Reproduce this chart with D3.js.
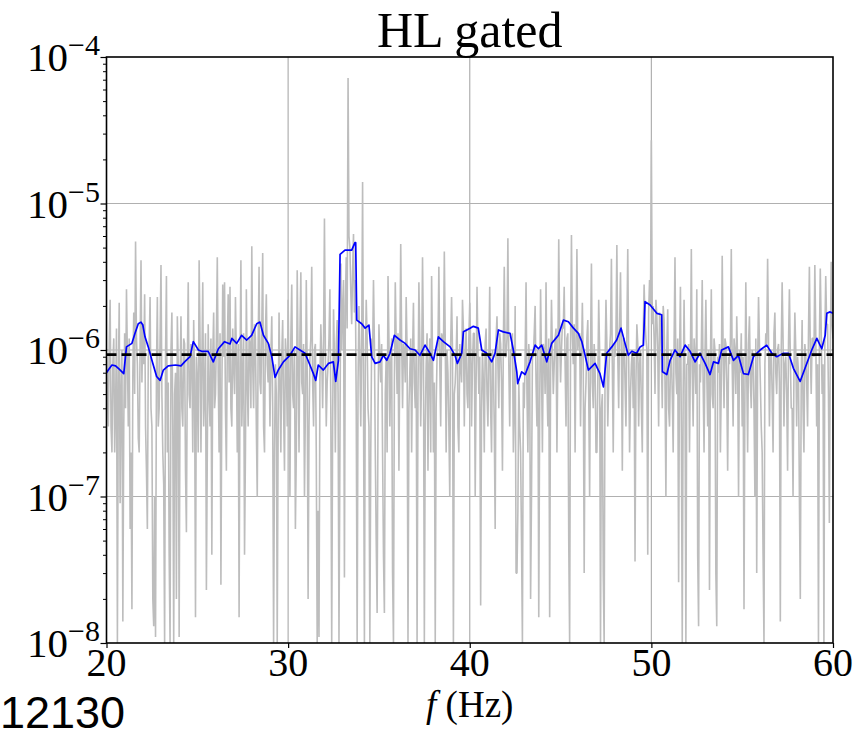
<!DOCTYPE html>
<html>
<head>
<meta charset="utf-8">
<script src="https://cdn.jsdelivr.net/npm/d3@7"></script>
<style>
  html, body { margin: 0; padding: 0; background: #fff; }
  svg { display: block; }
</style>
</head>
<body>
<svg id="chart" width="864" height="738"></svg>
<script>
// ---------------- DATA ----------------
const titleText = "HL gated";
const xLabelPrefix = "f";
const xLabelSuffix = " (Hz)";
const cornerLabel = "12130";

const xTicks = [20, 30, 40, 50, 60];
const yTickExponents = [-8, -7, -6, -5, -4];

// gray spectrum, values at 20.0, 20.1, ... 60.0 Hz
const grayStart = 20, grayStep = 0.1;
const grayPSD = [
  9e-7,3e-7,2.2e-6,2e-7,1.2e-6,4e-7,1e-8,2.1e-6,5e-7,1.4e-8,
  1.3e-6,2.6e-6,3e-7,6e-8,1.7e-8,1.8e-6,5.5e-6,8e-7,2e-7,4.1e-6,
  1.5e-6,2.4e-6,1.5e-7,9e-7,2.3e-6,3e-7,1.3e-8,1.1e-8,2.3e-6,4e-7,
  3.8e-6,2e-7,1e-8,3.2e-6,6e-7,1e-8,1.8e-6,1e-8,7e-7,1.7e-6,
  1.1e-8,1.7e-6,3e-7,1.1e-6,5.7e-8,2.9e-6,4e-7,9e-7,1.6e-6,1.5e-8,
  6e-7,4.1e-6,2e-7,2.9e-6,5e-7,2.3e-8,1.5e-6,3e-7,4e-8,1.8e-6,
  5e-7,4.3e-6,2e-7,2.5e-8,2.8e-6,2.9e-6,1.5e-7,2.4e-6,2.7e-6,3e-7,
  8e-7,2.3e-6,2e-7,1.5e-8,4.1e-6,6e-7,4e-8,2.6e-6,3e-7,1.1e-6,
  5.1e-6,4e-7,1.2e-6,1e-7,3.7e-6,5e-7,4.6e-6,2e-7,2.4e-6,6e-7,
  3e-7,1.7e-6,1e-8,8e-7,1e-8,1.8e-6,2e-7,1.6e-6,1.5e-7,9e-7,
  2.2e-6,1e-7,2.8e-6,4e-7,6e-8,3.5e-6,2e-7,3.4e-6,5e-7,1e-7,
  3e-6,2e-8,9e-7,3.7e-6,3e-7,1.1e-6,1e-8,1.1e-8,1.5e-6,4e-7,
  7.9e-6,3e-7,8e-7,2.6e-6,1e-8,1.9e-6,2e-7,1.6e-6,1e-8,3.9e-6,
  2e-6,2.8e-8,4.3e-6,7.2e-5,5e-6,1.5e-6,6.2e-6,3e-6,1e-8,2e-6,
  3e-7,1.4e-5,1e-8,2.2e-6,4e-7,1e-8,1.2e-6,3e-6,2e-7,1.6e-8,
  1.5e-6,6e-7,2e-7,1.6e-8,9e-7,3.2e-6,3e-7,1.2e-6,1e-8,2.9e-6,
  5e-7,1.5e-7,5.3e-6,4e-7,1e-6,2.3e-6,1e-8,7e-7,2e-7,2.1e-6,
  4e-7,1e-8,2.9e-6,3e-7,4.3e-6,1e-8,8e-7,1.5e-7,1.2e-6,3.2e-6,
  2e-7,1e-8,9e-7,3.7e-6,3e-7,1.2e-6,4.7e-6,2e-7,7e-7,1e-7,
  2.3e-6,1e-8,6e-7,1.7e-6,2e-7,8e-7,2.2e-6,3e-7,1.4e-6,4e-7,
  2.1e-6,3e-7,1.3e-6,1e-7,2.7e-6,5e-7,1.8e-8,1e-6,2e-7,1.4e-6,
  3e-7,2.7e-6,2e-7,8e-7,6e-8,1.7e-6,4e-7,1.1e-6,1.5e-7,3.7e-6,
  9e-7,5.8e-6,3e-7,1e-6,2e-7,2e-6,3e-8,6e-7,2e-7,1e-8,
  4e-7,2.9e-6,2e-7,8e-7,1e-7,9e-7,2e-6,3e-7,1.5e-8,2.6e-6,
  2e-7,1e-6,2.9e-6,3e-7,1.5e-8,2.2e-6,5e-7,1.2e-6,2e-7,5.7e-6,
  6e-7,1.5e-6,2.7e-6,3e-7,1.3e-6,1e-8,6.1e-6,8e-7,2e-7,4.9e-6,
  1.2e-6,3e-7,2.1e-6,3e-8,6e-7,1.6e-6,1e-7,3.9e-6,4e-7,8e-7,
  2e-7,2.2e-6,1e-8,5e-7,1e-8,2.2e-6,3e-7,1e-6,4.2e-6,2e-7,
  9e-7,5.2e-6,4e-7,3.4e-6,1.5e-7,1.2e-6,3e-7,4.9e-6,2e-7,8e-7,
  4e-7,3.6e-8,1.5e-6,3e-7,1e-6,2e-7,2.8e-6,1.2e-6,4e-8,3e-6,
  2.7e-5,2e-6,5e-7,1.7e-6,3e-7,1.5e-6,4e-7,1.6e-6,1e-7,1.9e-6,
  3e-7,1e-6,2e-7,4.3e-6,5e-7,2.6e-8,2.7e-6,1e-8,2.2e-6,1e-8,
  8e-7,2e-7,4.9e-6,3e-7,9e-7,2.6e-6,1.3e-8,6e-7,3e-6,2e-7,
  2.2e-6,3e-7,2.3e-8,2.6e-6,4e-7,1e-6,1.3e-8,7e-7,2e-7,4.4e-6,
  4e-7,1.1e-6,1.5e-7,8e-7,4.9e-6,3e-7,1e-6,1.7e-6,1e-7,7e-7,
  3e-7,1.7e-8,2.9e-6,2e-7,1.7e-6,4e-7,9e-7,1e-7,3e-8,2.3e-6,
  6e-7,2e-7,1e-8,1.3e-6,4.2e-6,3e-7,1e-6,2e-7,1.8e-6,5e-7,
  1.1e-6,1.4e-8,2.9e-6,3e-7,9e-7,1.5e-7,2.6e-6,4e-7,1e-7,1.8e-6,
  3e-7,7e-7,2e-8,1.6e-6,2e-7,9e-7,3e-7,3.7e-6,5e-7,1.2e-6,
  3.8e-6,3e-7,1e-8,3.6e-6,5e-7,1e-8,3.2e-6,1.5e-6,6.6e-8,4e-6,
  1.2e-6
];
// gray spectrum, values at the half steps 20.05, 20.15, ... 59.95 Hz
const grayPSDHalf = [
  5e-7,1.1e-6,3e-7,8e-7,2e-7,1.4e-6,6e-7,9e-8,1e-6,3e-7,
  4e-7,9e-7,1.2e-6,2e-7,7e-7,5e-7,1.2e-6,2.5e-7,1.1e-6,6e-7,
  8e-7,3e-7,6e-8,1.1e-6,4e-7,2e-8,1e-7,7e-7,3e-7,1.2e-6,
  5e-7,1.2e-7,9e-7,2e-7,4e-8,1e-6,3e-7,5e-7,2e-8,8e-7,
  6e-7,4e-7,1.2e-6,1.5e-7,8e-7,5e-7,1.1e-6,2e-7,6e-7,9e-7,
  2e-7,1.2e-6,8e-7,3e-7,1.3e-6,2e-7,5e-7,1.2e-6,9e-7,4e-7,
  1.2e-6,7e-7,1.3e-6,5e-7,9e-7,4e-7,1e-6,6e-7,4e-7,1.4e-6,
  5e-7,9e-7,1.1e-6,7e-7,3e-7,1.3e-6,2e-7,6e-7,1.2e-6,4e-7,
  8e-7,1.5e-6,3e-7,1.1e-6,6e-7,1.4e-6,3e-7,1.3e-6,8e-7,1.1e-6,
  9e-7,4e-7,2e-7,5e-7,3e-7,6e-7,9e-7,4e-7,1.2e-6,3e-7,
  6e-7,1.2e-6,5e-7,1e-6,2e-7,9e-7,1.3e-6,6e-7,1.1e-6,4e-7,
  7e-7,3e-7,1.2e-6,6e-7,1e-6,2e-7,8e-8,6e-7,9e-7,1.1e-6,
  1e-6,6e-7,1.2e-6,4e-7,3e-7,9e-7,1.1e-6,5e-7,2e-7,1e-6,
  3e-6,2e-6,1.4e-6,6e-6,2.5e-6,3.5e-6,1.8e-6,4e-7,6e-7,9e-7,
  1.1e-6,5e-7,8e-7,1.2e-6,3e-7,2e-7,9e-7,1.1e-6,5e-8,4e-7,
  9e-7,1.1e-6,4e-8,5e-7,2e-7,1.2e-6,8e-7,3e-8,6e-7,1.1e-6,
  1.3e-6,9e-7,1.2e-6,1.1e-6,6e-7,1e-6,4e-7,1.2e-6,9e-7,6e-7,
  1e-6,5e-7,1.2e-6,7e-7,1.1e-6,3e-7,1.3e-6,8e-7,2e-7,9e-7,
  6e-7,4e-7,1.1e-6,8e-7,1.3e-6,9e-7,1.2e-6,1e-6,3e-7,1.1e-6,
  1e-6,5e-7,9e-7,3e-7,1.1e-6,6e-7,1.4e-6,9e-7,5e-7,1.2e-6,
  1.1e-6,8e-7,1.3e-6,6e-7,1e-6,9e-7,4e-7,6e-7,1.1e-6,5e-7,
  9e-7,4e-7,1e-6,3e-7,1.2e-6,8e-7,1.3e-6,6e-7,1.1e-6,9e-7,
  1.2e-6,8e-7,1e-6,1.3e-6,4e-7,3e-8,8e-8,3e-7,5e-8,6e-7,
  9e-7,5e-7,1.1e-6,2e-8,9e-7,1.3e-6,6e-7,1e-6,4e-7,8e-7,
  1.1e-6,5e-7,6e-7,1.2e-6,7e-7,1e-6,8e-7,1.4e-6,9e-7,1.3e-6,
  1e-6,1.4e-6,8e-7,1.2e-6,5e-8,1.1e-6,1.3e-6,1.5e-6,1.1e-6,1e-6,
  1.3e-6,9e-7,8e-7,4e-7,1.2e-6,5e-7,1e-6,6e-7,1.1e-6,2e-7,
  6e-7,1e-6,4e-7,3e-8,8e-7,1.1e-6,6e-7,1.3e-6,8e-7,1.1e-6,
  1.3e-6,9e-7,1.4e-6,1e-6,1.2e-6,6e-7,1.3e-6,9e-7,5e-7,1e-6,
  9e-7,6e-7,1.1e-6,8e-7,4e-7,1.2e-6,1.6e-6,1e-6,1.8e-6,2e-6,
  1.5e-6,1.2e-6,2.2e-6,1e-6,1.8e-6,9e-7,2e-6,6e-7,1e-6,4e-7,
  8e-7,5e-7,1.1e-6,7e-7,1.2e-6,9e-7,3e-7,5e-7,6e-7,8e-7,
  1.1e-6,9e-7,7e-7,1.2e-6,5e-7,4e-8,8e-7,1e-6,6e-7,9e-7,
  7e-7,1e-6,8e-7,5e-7,1.2e-6,3e-8,9e-7,1.1e-6,6e-7,1e-6,
  1.2e-6,6e-7,9e-7,1.1e-6,8e-7,1.2e-6,5e-7,8e-7,1e-6,1.3e-6,
  9e-7,5e-7,7e-7,1.1e-6,6e-7,1e-6,4e-7,1.2e-6,8e-7,1.1e-6,
  3e-7,4e-8,8e-7,1.1e-6,1.2e-6,9e-7,5e-7,1.3e-6,7e-7,1e-6,
  6e-7,1e-6,1.2e-6,8e-7,5e-7,1.1e-6,9e-7,4e-7,7e-7,1e-6,
  9e-7,1e-7,6e-7,4e-7,1.1e-6,6e-7,1.3e-6,1e-6,1.2e-6,9e-7,
  1.3e-6,8e-7,1.1e-6,1.4e-6,8e-7,1.2e-6,1.5e-6,5e-7,9e-7,1.5e-6
];

// blue running estimate (breakpoints)
const blueFreq = [
  20.0,20.1,20.3,20.5,20.7,20.95,21.1,21.4,21.57,21.75,21.9,22.0,22.12,22.3,22.5,22.76,22.95,23.13,23.4,23.8,
  24.1,24.3,24.6,24.78,25.06,25.24,25.6,25.88,26.16,26.5,26.8,26.9,27.17,27.44,27.72,27.99,28.27,28.45,28.64,28.91,
  29.1,29.28,29.46,29.74,30.1,30.38,30.65,30.93,31.2,31.39,31.52,31.66,31.94,32.22,32.49,32.62,32.77,32.86,33.13,33.5,
  33.68,33.72,33.78,34.05,34.24,34.45,34.6,34.79,35.06,35.24,35.43,35.61,35.85,36.16,36.44,36.71,36.99,37.26,37.54,37.81,
  38.0,38.27,38.55,38.92,39.19,39.32,39.56,39.65,40.02,40.2,40.47,40.66,40.93,41.21,41.39,41.58,41.85,42.22,42.4,42.59,
  42.64,42.86,43.05,43.32,43.6,43.78,43.96,44.24,44.51,44.88,45.16,45.43,45.71,45.98,46.17,46.35,46.53,46.9,47.17,47.36,
  47.54,47.82,48.09,48.33,48.55,48.73,48.92,49.19,49.38,49.56,49.65,49.93,50.3,50.57,50.61,50.85,51.03,51.3,51.58,51.86,
  52.13,52.41,52.68,52.96,53.23,53.42,53.69,53.87,54.24,54.52,54.79,55.07,55.34,55.62,55.99,56.35,56.63,56.9,57.27,57.55,
  57.82,58.19,58.46,58.83,59.11,59.38,59.57,59.66,59.84,60.0
];
const bluePSD = [
  7.0e-7,7.3e-7,7.9e-7,7.8e-7,7.4e-7,6.9e-7,1.05e-6,1.11e-6,1.30e-6,1.51e-6,1.55e-6,1.48e-6,1.23e-6,1.05e-6,8.5e-7,6.6e-7,6.2e-7,7.3e-7,7.8e-7,7.9e-7,
  7.8e-7,8.3e-7,9.0e-7,1.14e-6,1.0e-6,9.8e-7,9.8e-7,8.3e-7,1.02e-6,1.14e-6,1.1e-6,1.2e-6,1.11e-6,1.26e-6,1.17e-6,1.26e-6,1.51e-6,1.55e-6,1.26e-6,1.11e-6,
  9.0e-7,6.5e-7,7.3e-7,8.3e-7,9.2e-7,1.05e-6,1.0e-6,9.5e-7,7.9e-7,6.9e-7,6.2e-7,7.9e-7,7.3e-7,8.1e-7,8.3e-7,6.1e-7,8.5e-7,4.5e-6,4.8e-6,4.8e-6,
  5.4e-6,5.4e-6,1.6e-6,1.51e-6,1.41e-6,1.48e-6,9.0e-7,8.1e-7,8.3e-7,9.2e-7,8.5e-7,9.5e-7,1.26e-6,1.17e-6,1.11e-6,1.02e-6,1.0e-6,9.2e-7,1.08e-6,9.5e-7,
  8.5e-7,1.23e-6,1.14e-6,1.05e-6,9.2e-7,8.1e-7,9.5e-7,1.33e-6,1.41e-6,1.45e-6,1.41e-6,1.0e-6,9.5e-7,8.3e-7,9.5e-7,1.37e-6,1.33e-6,1.30e-6,1.0e-6,7.1e-7,
  5.9e-7,7.1e-7,6.8e-7,8.3e-7,1.08e-6,1.02e-6,1.08e-6,8.3e-7,1.11e-6,1.26e-6,1.60e-6,1.56e-6,1.41e-6,1.30e-6,1.14e-6,9.2e-7,7.3e-7,8.1e-7,6.9e-7,5.6e-7,
  9.5e-7,1.05e-6,1.17e-6,1.41e-6,1.11e-6,9.2e-7,9.8e-7,9.5e-7,1.05e-6,1.08e-6,2.14e-6,2.03e-6,1.78e-6,1.74e-6,7.1e-7,6.8e-7,8.5e-7,1.0e-6,9.0e-7,1.08e-6,
  9.8e-7,8.3e-7,9.5e-7,8.1e-7,6.8e-7,8.3e-7,8.1e-7,1.0e-6,1.05e-6,8.5e-7,9.2e-7,6.9e-7,6.8e-7,9.0e-7,1.0e-6,1.08e-6,9.5e-7,9.0e-7,9.5e-7,9.5e-7,
  7.5e-7,6.1e-7,7.5e-7,1.0e-6,1.20e-6,1.02e-6,1.26e-6,1.78e-6,1.82e-6,1.78e-6
];

// black dashed reference level
const dashedLevel = 9.3e-7;

// ---------------- DRAWING ----------------
const svg = d3.select("#chart");
const pLeft = 106.5, pRight = 833, pTop = 57, pBottom = 643;
const serif = "'Liberation Serif', 'DejaVu Serif', serif";

const x = d3.scaleLinear().domain([20, 60]).range([pLeft, pRight]);
const y = d3.scaleLog().domain([1e-8, 1e-4]).range([pBottom, pTop]);

svg.append("defs").append("clipPath").attr("id", "plotclip")
  .append("rect").attr("x", pLeft).attr("y", pTop)
  .attr("width", pRight - pLeft).attr("height", pBottom - pTop);

// grid
const grid = svg.append("g");
grid.selectAll("line.vg").data(xTicks.slice(1, -1)).join("line")
  .attr("x1", d => x(d)).attr("x2", d => x(d))
  .attr("y1", pTop).attr("y2", pBottom)
  .attr("stroke", "#b0b0b0").attr("stroke-width", 1.2);
grid.selectAll("line.hg").data(yTickExponents.slice(1, -1)).join("line")
  .attr("x1", pLeft).attr("x2", pRight)
  .attr("y1", d => y(Math.pow(10, d))).attr("y2", d => y(Math.pow(10, d)))
  .attr("stroke", "#b0b0b0").attr("stroke-width", 1.2);

const plot = svg.append("g").attr("clip-path", "url(#plotclip)");

// merge full steps and half steps in frequency order
const grayData = [];
grayPSD.forEach((v, i) => {
  grayData.push([grayStart + i * grayStep, v]);
  if (i < grayPSDHalf.length) grayData.push([grayStart + (i + 0.5) * grayStep, grayPSDHalf[i]]);
});
plot.append("path").datum(grayData)
  .attr("fill", "none").attr("stroke", "#bdbdbd").attr("stroke-width", 1.6)
  .attr("stroke-linejoin", "bevel")
  .attr("d", d3.line().x(d => x(d[0])).y(d => y(Math.max(d[1], 5e-9))));

plot.append("path").datum(blueFreq.map((f, i) => [f, bluePSD[i]]))
  .attr("fill", "none").attr("stroke", "#0000ff").attr("stroke-width", 1.7)
  .attr("stroke-linejoin", "round")
  .attr("d", d3.line().x(d => x(d[0])).y(d => y(d[1])));

plot.append("line")
  .attr("x1", pLeft).attr("x2", pRight)
  .attr("y1", y(dashedLevel)).attr("y2", y(dashedLevel))
  .attr("stroke", "#000").attr("stroke-width", 2.8)
  .attr("stroke-dasharray", "10,5");

// axes
const xAxis = d3.axisBottom(x).tickValues(xTicks).tickSize(5).tickFormat("");
svg.append("g").attr("transform", `translate(0,${pBottom})`).call(xAxis)
  .call(g => g.select(".domain").remove())
  .call(g => g.selectAll(".tick line").attr("stroke", "#000").attr("stroke-width", 1.2));

const majorY = yTickExponents.map(e => Math.pow(10, e));
const minorY = [];
yTickExponents.slice(0, -1).forEach(e => { for (let k = 2; k <= 9; k++) minorY.push(k * Math.pow(10, e)); });

svg.append("g").attr("transform", `translate(${pLeft},0)`)
  .call(d3.axisLeft(y).tickValues(majorY).tickSize(6).tickFormat(""))
  .call(g => g.select(".domain").remove())
  .call(g => g.selectAll(".tick line").attr("stroke", "#000").attr("stroke-width", 1.2));
svg.append("g").attr("transform", `translate(${pLeft},0)`)
  .call(d3.axisLeft(y).tickValues(minorY).tickSize(3.5).tickFormat(""))
  .call(g => g.select(".domain").remove())
  .call(g => g.selectAll(".tick line").attr("stroke", "#000").attr("stroke-width", 1));

// frame
svg.append("rect").attr("x", pLeft).attr("y", pTop)
  .attr("width", pRight - pLeft).attr("height", pBottom - pTop)
  .attr("fill", "none").attr("stroke", "#000").attr("stroke-width", 1.6);

// x tick labels
svg.append("g").selectAll("text").data(xTicks).join("text")
  .attr("x", d => x(d)).attr("y", pBottom + 33)
  .attr("text-anchor", "middle")
  .attr("font-family", serif).attr("font-size", 40)
  .text(d => d);

// y tick labels
const yl = svg.append("g").selectAll("text").data(yTickExponents).join("text")
  .attr("x", 100).attr("y", d => y(Math.pow(10, d)) + 14)
  .attr("text-anchor", "end")
  .attr("font-family", serif).attr("font-size", 41);
yl.append("tspan").text("10");
yl.append("tspan").attr("dy", -16).attr("font-size", 30).text(d => "\u2212" + Math.abs(d));

// title
svg.append("text").attr("x", (pLeft + pRight) / 2).attr("y", 47)
  .attr("text-anchor", "middle").attr("font-family", serif).attr("font-size", 50)
  .text(titleText);

// x label
const xl = svg.append("text").attr("x", (pLeft + pRight) / 2).attr("y", 717)
  .attr("text-anchor", "middle").attr("font-family", serif).attr("font-size", 37);
xl.append("tspan").attr("font-style", "italic").text(xLabelPrefix);
xl.append("tspan").text(xLabelSuffix);

// corner label
svg.append("text").attr("x", 0).attr("y", 728)
  .attr("font-family", "'Liberation Sans', Arial, sans-serif").attr("font-size", 45)
  .text(cornerLabel);
</script>
</body>
</html>
